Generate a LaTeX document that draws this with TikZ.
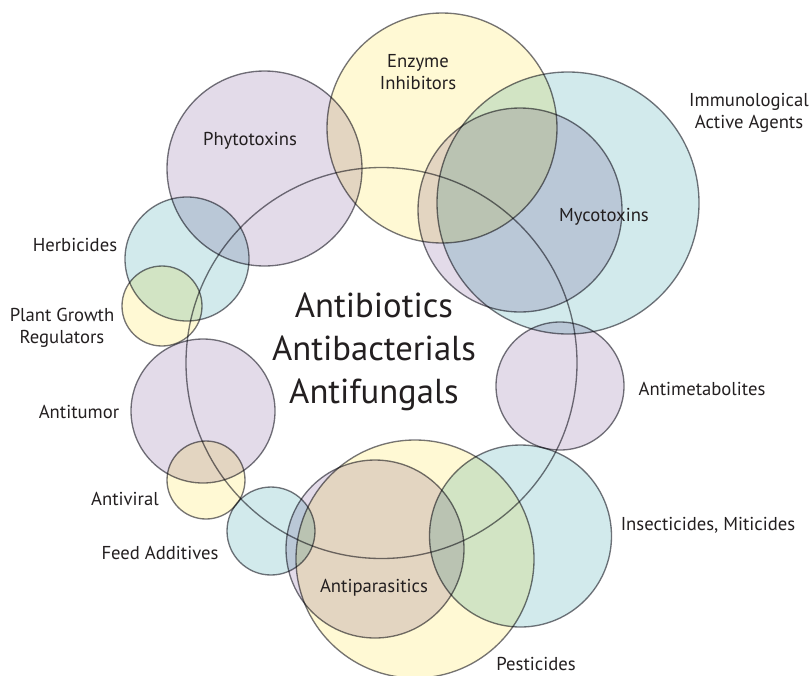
\documentclass[tikz,border=0pt]{standalone}
\usepackage{fontspec}
\setmainfont{PT Sans}
\usepackage{xcolor}
\definecolor{softyellow}{RGB}{255,249,212}
\definecolor{softpurple}{RGB}{227,219,233}
\definecolor{softteal}{RGB}{210,234,236}
\definecolor{edgegray}{RGB}{118,118,124}
\definecolor{inkdark}{RGB}{35,31,32}

\begin{document}
\begin{tikzpicture}[x=0.75pt, y=-0.75pt,
  disc/.style={draw=edgegray, line width=1pt, blend mode=multiply},
  lbl/.style={font=\fontsize{14}{16.5}\selectfont, text=inkdark, align=center, inner sep=0pt}]
  \fill[white] (0,0) rectangle (812,675);
  \useasboundingbox (0,0) rectangle (812,675);
  % Yellow sets
  \foreach \x/\y/\r in {442/128/115, 162/306/40, 206/480/39, 415/559/119} {
    \draw[disc, fill=softyellow] (\x,\y) circle (\r);
  }
  % Purple sets
  \foreach \x/\y/\r in {264.5/168.5/97.5, 520/210/102, 203/411/72, 560/386/64, 375/549/89} {
    \draw[disc, fill=softpurple] (\x,\y) circle (\r);
  }
  % Teal sets
  \foreach \x/\y/\r in {568/203/131, 187/259/62, 271/531/44, 520.5/536/91} {
    \draw[disc, fill=softteal] (\x,\y) circle (\r);
  }
  % Antibiotics ring
  \draw[disc] (381.5,363) circle (195.5);
  % Centre text
  \node[lbl, font=\fontsize{26}{32}\selectfont] (antibio) at (374,352) {Antibiotics\\Antibacterials\\Antifungals};
  % Labels
  \node[lbl] (enzyme) at (418,72) {Enzyme\\Inhibitors};
  \node[lbl] (phyto) at (250,141) {Phytotoxins};
  \node[lbl] (immuno) at (749,113) {Immunological\\Active Agents};
  \node[lbl] (myco) at (604,217) {Mycotoxins};
  \node[lbl] (herbi) at (75,245) {Herbicides};
  \node[lbl] (plant) at (62,328) {Plant Growth\\Regulators};
  \node[lbl] (antimeta) at (702,389) {Antimetabolites};
  \node[lbl] (antitumor) at (79,412) {Antitumor};
  \node[lbl] (antiviral) at (125,499) {Antiviral};
  \node[lbl] (insect) at (708,525) {Insecticides, Miticides};
  \node[lbl] (feed) at (160,553) {Feed Additives};
  \node[lbl] (antipara) at (374,588) {Antiparasitics};
  \node[lbl] (pesti) at (536,664) {Pesticides};
\end{tikzpicture}
\end{document}
